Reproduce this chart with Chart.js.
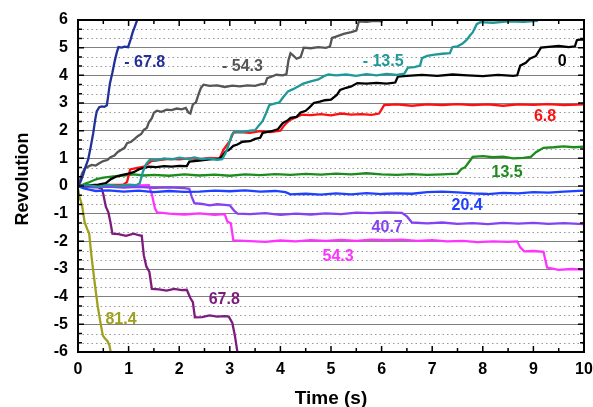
<!DOCTYPE html>
<html>
<head>
<meta charset="utf-8">
<script src="https://cdn.jsdelivr.net/npm/chart.js@4.4.1/dist/chart.umd.min.js"></script>
<style>
  html, body { margin: 0; padding: 0; background: #fff; }
</style>
</head>
<body>
<canvas id="myChart" width="593" height="407"></canvas>
<script>
// revolution traces, [time (s), revolution]
const runNeg678 = [[0,0],[0.05,0.15],[0.1,0.4],[0.15,0.7],[0.2,0.95],[0.25,1.4],[0.3,1.9],[0.34,2.4],[0.37,2.7],[0.42,2.85],[0.47,2.88],[0.52,2.86],[0.57,2.92],[0.6,3.3],[0.63,3.7],[0.68,4.1],[0.73,4.55],[0.77,4.85],[0.8,5.02],[0.86,5.0],[0.92,5.04],[0.99,5.02],[1.04,5.3],[1.08,5.55],[1.13,5.8],[1.18,6.05],[1.22,6.3]];
const runNeg543 = [[0,0],[0.04,0.2],[0.08,0.45],[0.14,0.65],[0.2,0.7],[0.27,0.76],[0.35,0.74],[0.42,0.82],[0.5,0.9],[0.58,0.94],[0.65,1.05],[0.72,1.1],[0.78,1.22],[0.85,1.3],[0.92,1.38],[0.97,1.55],[1.05,1.6],[1.12,1.7],[1.18,1.8],[1.25,1.88],[1.3,2.03],[1.36,2.1],[1.4,2.3],[1.46,2.45],[1.5,2.65],[1.56,2.72],[1.65,2.68],[1.75,2.76],[1.85,2.74],[1.95,2.8],[2.05,2.77],[2.13,2.82],[2.18,2.66],[2.22,2.62],[2.27,2.95],[2.33,3.02],[2.38,3.3],[2.43,3.55],[2.48,3.66],[2.6,3.62],[2.75,3.64],[2.9,3.58],[3.05,3.63],[3.2,3.6],[3.35,3.64],[3.5,3.62],[3.62,3.68],[3.7,3.7],[3.74,3.9],[3.82,3.95],[3.92,4.02],[4.05,4.0],[4.12,4.05],[4.16,4.55],[4.2,4.8],[4.25,4.72],[4.32,4.6],[4.4,4.66],[4.46,5.0],[4.6,4.98],[4.75,5.02],[4.9,4.99],[4.98,5.05],[5.02,5.35],[5.1,5.4],[5.25,5.5],[5.4,5.56],[5.5,5.62],[5.55,5.95],[5.7,5.93],[5.85,5.97],[6.0,5.95],[6.02,6.2]];
const runNeg135 = [[0,0],[0.2,0.03],[0.4,-0.02],[0.6,0.04],[0.8,0.0],[1.0,0.05],[1.15,0.03],[1.22,0.1],[1.28,0.5],[1.35,0.8],[1.42,0.95],[1.55,0.93],[1.7,1.0],[1.85,0.96],[2.0,1.02],[2.15,0.98],[2.3,1.03],[2.45,0.97],[2.6,1.0],[2.75,0.95],[2.85,0.97],[2.92,1.2],[2.98,1.5],[3.04,1.85],[3.1,1.97],[3.25,1.95],[3.4,2.0],[3.5,2.02],[3.58,2.2],[3.65,2.35],[3.72,2.65],[3.78,2.92],[3.88,2.98],[3.98,3.02],[4.05,3.2],[4.15,3.42],[4.25,3.5],[4.35,3.6],[4.45,3.7],[4.6,3.78],[4.75,3.85],[4.86,3.97],[4.95,4.03],[5.1,4.0],[5.3,4.03],[5.5,3.98],[5.7,4.04],[5.9,4.0],[6.1,4.05],[6.3,4.02],[6.45,4.06],[6.52,4.28],[6.65,4.3],[6.76,4.35],[6.8,4.62],[6.9,4.7],[7.05,4.75],[7.2,4.78],[7.35,4.8],[7.4,5.02],[7.5,5.05],[7.6,5.15],[7.68,5.28],[7.75,5.45],[7.8,5.55],[7.88,5.85],[7.95,5.92],[8.2,5.9],[8.5,5.95],[8.8,5.93],[9.07,5.97],[9.1,6.2]];
const run0 = [[0,0],[0.2,0.02],[0.4,0.05],[0.55,0.1],[0.65,0.25],[0.77,0.35],[0.88,0.4],[1.0,0.45],[1.1,0.5],[1.2,0.6],[1.29,0.65],[1.4,0.7],[1.55,0.68],[1.7,0.72],[1.85,0.7],[2.0,0.73],[2.15,0.72],[2.2,0.88],[2.4,0.92],[2.6,0.96],[2.78,0.98],[2.85,1.08],[2.92,1.25],[2.98,1.3],[3.07,1.45],[3.15,1.5],[3.25,1.6],[3.4,1.62],[3.5,1.7],[3.6,1.74],[3.65,1.92],[3.8,1.97],[3.95,2.05],[4.05,2.28],[4.15,2.38],[4.2,2.46],[4.32,2.5],[4.4,2.66],[4.5,2.72],[4.58,2.85],[4.66,3.0],[4.78,3.05],[4.88,3.1],[5.0,3.12],[5.12,3.3],[5.18,3.47],[5.3,3.55],[5.4,3.6],[5.52,3.72],[5.7,3.7],[5.9,3.73],[6.1,3.7],[6.27,3.74],[6.32,3.95],[6.5,3.98],[6.8,4.02],[7.1,3.98],[7.4,4.03],[7.7,4.0],[8.0,3.97],[8.3,4.02],[8.6,3.98],[8.68,4.0],[8.74,4.35],[8.85,4.45],[8.93,4.6],[9.05,4.7],[9.15,5.0],[9.3,5.03],[9.5,5.06],[9.7,5.02],[9.82,5.05],[9.86,5.27],[9.95,5.3],[10,5.28]];
const run68 = [[0,0],[0.3,0.02],[0.6,0.04],[0.9,0.05],[0.97,0.15],[1.03,0.6],[1.15,0.65],[1.3,0.7],[1.38,0.8],[1.45,0.9],[1.6,0.94],[1.8,0.98],[2.0,0.96],[2.2,1.0],[2.4,0.97],[2.6,1.02],[2.8,1.0],[2.87,1.3],[2.95,1.5],[3.0,1.62],[3.07,1.93],[3.2,1.95],[3.4,1.92],[3.6,1.98],[3.8,1.95],[4.0,2.0],[4.08,2.2],[4.18,2.38],[4.3,2.48],[4.42,2.58],[4.6,2.56],[4.8,2.6],[5.0,2.55],[5.2,2.62],[5.4,2.58],[5.6,2.6],[5.8,2.57],[5.95,2.62],[6.05,2.92],[6.3,2.95],[6.6,2.9],[6.9,2.95],[7.2,2.92],[7.5,2.96],[7.8,2.92],[8.1,2.95],[8.4,2.9],[8.7,2.95],[9.0,2.93],[9.3,2.96],[9.6,2.92],[10,2.95]];
const run135 = [[0,0],[0.1,0.05],[0.2,0.12],[0.3,0.2],[0.37,0.25],[0.5,0.3],[0.7,0.35],[0.9,0.38],[1.1,0.42],[1.3,0.38],[1.5,0.4],[1.8,0.37],[2.1,0.42],[2.4,0.38],[2.7,0.41],[3.0,0.37],[3.3,0.42],[3.6,0.39],[3.9,0.43],[4.2,0.4],[4.5,0.44],[4.8,0.41],[5.1,0.45],[5.4,0.42],[5.7,0.46],[6.0,0.42],[6.3,0.4],[6.6,0.43],[6.9,0.4],[7.2,0.42],[7.5,0.45],[7.58,0.62],[7.65,0.68],[7.72,0.85],[7.8,1.05],[8.0,1.08],[8.2,1.04],[8.4,1.06],[8.6,1.0],[8.8,1.02],[8.95,1.05],[9.05,1.22],[9.2,1.38],[9.4,1.4],[9.6,1.43],[9.8,1.4],[10,1.42]];
const run204 = [[0,0],[0.1,-0.08],[0.2,-0.12],[0.35,-0.18],[0.6,-0.16],[0.9,-0.2],[1.2,-0.17],[1.5,-0.22],[1.8,-0.18],[2.1,-0.21],[2.4,-0.2],[2.7,-0.17],[3.0,-0.19],[3.3,-0.16],[3.6,-0.2],[3.9,-0.18],[4.1,-0.22],[4.2,-0.3],[4.5,-0.28],[4.8,-0.31],[5.1,-0.27],[5.4,-0.3],[5.7,-0.26],[6.0,-0.29],[6.3,-0.27],[6.6,-0.28],[6.9,-0.22],[7.2,-0.2],[7.5,-0.23],[7.8,-0.27],[8.1,-0.29],[8.4,-0.25],[8.7,-0.27],[9.0,-0.22],[9.3,-0.24],[9.6,-0.2],[10,-0.17]];
const run407 = [[0,0],[0.3,-0.04],[0.6,-0.02],[0.9,-0.06],[1.2,-0.03],[1.5,-0.07],[1.8,-0.05],[2.1,-0.08],[2.2,-0.1],[2.25,-0.4],[2.3,-0.62],[2.45,-0.65],[2.6,-0.7],[2.75,-0.66],[2.9,-0.68],[3.0,-0.7],[3.08,-0.88],[3.15,-1.0],[3.4,-1.02],[3.7,-0.98],[4.0,-1.04],[4.3,-1.0],[4.6,-1.03],[4.9,-0.99],[5.2,-1.02],[5.5,-0.96],[5.8,-0.98],[6.1,-0.95],[6.4,-0.97],[6.5,-1.1],[6.6,-1.32],[6.9,-1.35],[7.2,-1.32],[7.5,-1.37],[7.8,-1.34],[8.1,-1.38],[8.4,-1.33],[8.7,-1.36],[9.0,-1.33],[9.3,-1.37],[9.6,-1.34],[10,-1.38]];
const run543 = [[0,0],[0.3,0.02],[0.6,0.0],[0.9,0.04],[1.2,0.02],[1.4,0.03],[1.46,-0.3],[1.52,-0.8],[1.56,-0.95],[1.8,-1.0],[2.1,-1.03],[2.4,-0.99],[2.7,-1.04],[2.9,-1.02],[2.95,-1.28],[3.02,-1.35],[3.07,-1.97],[3.4,-1.99],[3.7,-2.02],[4.0,-1.97],[4.3,-2.0],[4.6,-1.96],[4.9,-1.98],[5.2,-1.95],[5.5,-1.98],[5.8,-1.94],[6.1,-1.96],[6.4,-1.94],[6.7,-1.98],[7.0,-1.96],[7.3,-2.0],[7.6,-1.98],[7.9,-2.03],[8.2,-2.0],[8.5,-2.02],[8.68,-2.0],[8.74,-2.22],[8.82,-2.36],[9.0,-2.35],[9.2,-2.38],[9.27,-2.95],[9.5,-3.03],[9.75,-3.0],[10,-3.02]];
const run678 = [[0,0],[0.2,-0.03],[0.4,-0.05],[0.47,-0.1],[0.5,-0.3],[0.55,-0.75],[0.6,-0.95],[0.64,-1.3],[0.68,-1.72],[0.8,-1.74],[0.95,-1.8],[1.1,-1.72],[1.2,-1.78],[1.26,-1.8],[1.3,-2.5],[1.35,-2.9],[1.41,-3.1],[1.46,-3.72],[1.6,-3.74],[1.75,-3.78],[1.9,-3.72],[2.05,-3.76],[2.15,-3.75],[2.22,-4.05],[2.27,-4.2],[2.31,-4.75],[2.45,-4.74],[2.6,-4.68],[2.75,-4.72],[2.9,-4.7],[2.98,-4.72],[3.05,-4.95],[3.1,-5.4],[3.15,-6.0],[3.17,-6.3]];
const run814 = [[0,-0.1],[0.03,-0.4],[0.08,-0.7],[0.13,-1.3],[0.18,-1.55],[0.22,-1.7],[0.27,-2.6],[0.33,-3.5],[0.39,-4.35],[0.45,-5.0],[0.49,-5.4],[0.53,-5.5],[0.58,-5.6],[0.62,-5.75],[0.65,-6.05],[0.67,-6.3]];

// in-plot labels, placed at [time, revolution]
const labelText = ['- 67.8', '- 54.3', '- 13.5', '0', '6.8', '13.5', '20.4', '40.7', '54.3', '67.8', '81.4'];
const labelAt = [[1.32,4.45],[3.25,4.3],[6.03,4.48],[9.57,4.48],[9.23,2.5],[8.48,0.48],[7.69,-0.71],[6.11,-1.5],[5.14,-2.55],[2.89,-4.1],[0.85,-4.82]];
const lineColors = ['#22309a', '#555555', '#1e9898', '#000000', '#ff1010', '#1c8c1c', '#1f40ff', '#8442f2', '#ff33ff', '#7c1c7c', '#a0a01e'];
const runs = [runNeg678, runNeg543, runNeg135, run0, run68, run135, run204, run407, run543, run678, run814];

const fontFamily = '"Liberation Sans", Arial, sans-serif';

const toPoints = (arr) => arr.map(p => ({ x: p[0], y: p[1] }));

const data = {
    datasets: runs.map((r, i) => ({
        label: labelText[i],
        data: toPoints(r),
        borderColor: lineColors[i],
        backgroundColor: lineColors[i],
        borderWidth: 2.3,
        pointRadius: 0,
        tension: 0,
        fill: false
    }))
};

// dotted minor lines, inward ticks, frame, titles and labels
const decorPlugin = {
    id: 'decor',
    beforeDatasetsDraw(chart) {
        const { ctx, chartArea: a, scales: { y } } = chart;
        ctx.save();
        ctx.strokeStyle = '#999999';
        ctx.lineWidth = 1;
        ctx.setLineDash([1.5, 3]);
        for (let k = -18; k <= 18; k++) {
            if (k % 3 === 0) continue;
            const py = Math.round(y.getPixelForValue(k / 3)) + 0.5;
            ctx.beginPath();
            ctx.moveTo(a.left, py);
            ctx.lineTo(a.right, py);
            ctx.stroke();
        }
        ctx.restore();
    },
    afterDraw(chart) {
        const { ctx, chartArea: a, scales: { x, y } } = chart;
        ctx.save();
        ctx.strokeStyle = '#000';
        ctx.lineWidth = 1.5;
        ctx.beginPath();
        for (let k = -18; k <= 18; k++) {
            const py = y.getPixelForValue(k / 3);
            const len = k % 3 === 0 ? 6 : 4;
            ctx.moveTo(a.left, py); ctx.lineTo(a.left + len, py);
            ctx.moveTo(a.right, py); ctx.lineTo(a.right - len, py);
        }
        for (let k = 0; k <= 20; k++) {
            const px = x.getPixelForValue(k / 2);
            const len = k % 2 === 0 ? 6 : 4;
            ctx.moveTo(px, a.bottom); ctx.lineTo(px, a.bottom - len);
            ctx.moveTo(px, a.top); ctx.lineTo(px, a.top + len);
        }
        ctx.stroke();
        ctx.lineWidth = 2;
        ctx.strokeRect(a.left, a.top, a.right - a.left, a.bottom - a.top);

        // series labels
        ctx.font = 'bold 16px ' + fontFamily;
        ctx.textAlign = 'center';
        ctx.textBaseline = 'middle';
        labelText.forEach((t, i) => {
            ctx.fillStyle = lineColors[i];
            ctx.fillText(t, x.getPixelForValue(labelAt[i][0]), y.getPixelForValue(labelAt[i][1]));
        });

        // axis titles
        ctx.fillStyle = '#000';
        ctx.font = 'bold 19px ' + fontFamily;
        ctx.textBaseline = 'alphabetic';
        ctx.fillText('Time (s)', (a.left + a.right) / 2, 404);
        ctx.translate(28, 179);
        ctx.rotate(-Math.PI / 2);
        ctx.font = 'bold 18px ' + fontFamily;
        ctx.fillText('Revolution', 0, 0);
        ctx.restore();
    }
};

const config = {
    type: 'line',
    data: data,
    options: {
        responsive: false,
        animation: false,
        layout: {
            padding: { top: 20, right: 9, left: 0, bottom: 0 }
        },
        plugins: {
            legend: { display: false },
            tooltip: { enabled: false }
        },
        scales: {
            x: {
                type: 'linear',
                min: 0,
                max: 10,
                afterFit: (s) => { s.height = 55; s.paddingLeft = 0; s.paddingRight = 0; },
                ticks: {
                    stepSize: 1,
                    color: '#000',
                    padding: 8,
                    maxRotation: 0,
                    font: { family: fontFamily, size: 16, weight: 'bold' }
                },
                grid: { display: false, drawTicks: false },
                border: { display: false }
            },
            y: {
                min: -6,
                max: 6,
                afterFit: (s) => { s.width = 78; s.paddingTop = 0; s.paddingBottom = 0; },
                ticks: {
                    stepSize: 1,
                    color: '#000',
                    padding: 10,
                    font: { family: fontFamily, size: 16, weight: 'bold' }
                },
                grid: { color: '#808080', lineWidth: 1, drawTicks: false },
                border: { display: false }
            }
        }
    },
    plugins: [decorPlugin]
};

let myChart = new Chart(
    document.getElementById('myChart'),
    config
);
</script>
</body>
</html>
